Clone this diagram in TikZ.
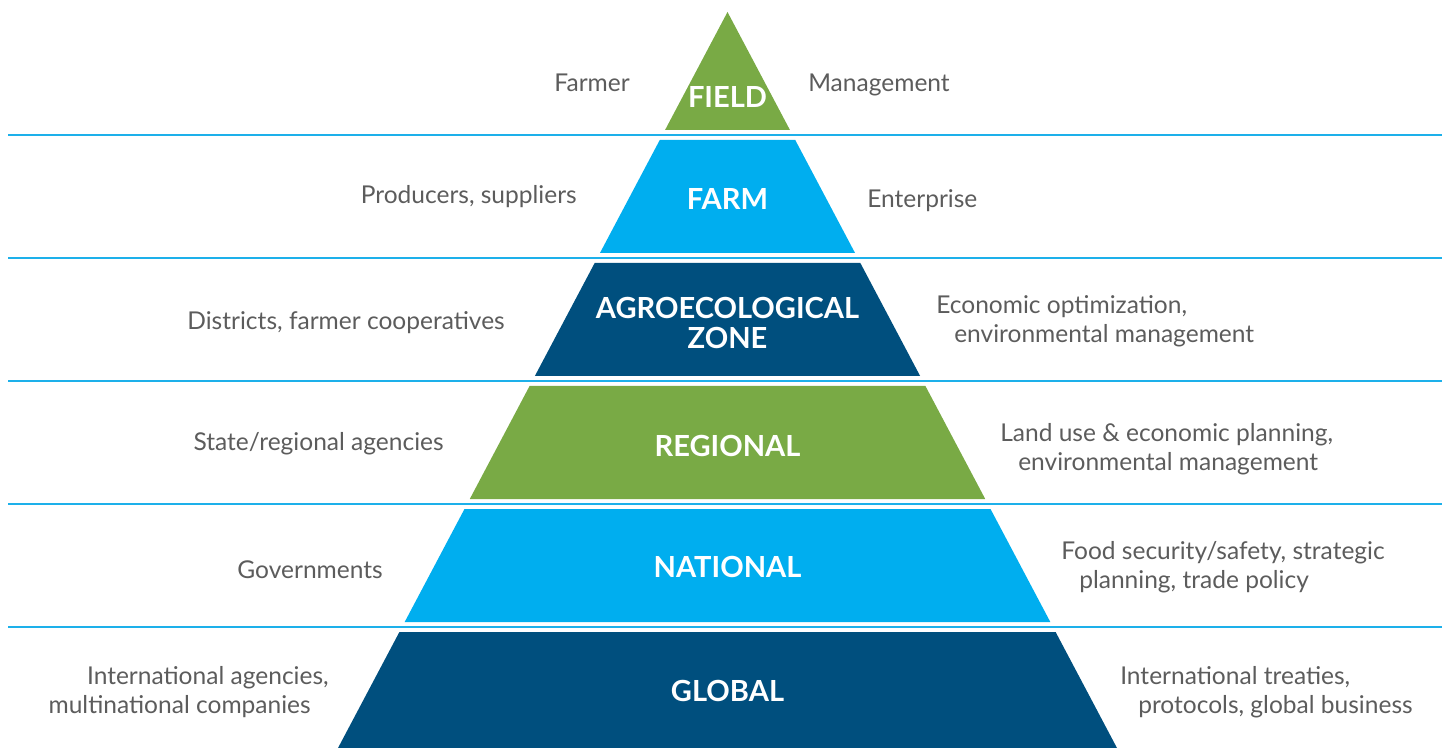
\documentclass[tikz,border=0pt]{standalone}
\usepackage{fontspec}
\setmainfont{Lato}
\definecolor{leafgreen}{HTML}{79AA45}
\definecolor{skyblue}{HTML}{00AEEF}
\definecolor{deepblue}{HTML}{004F7E}
\definecolor{rulecol}{HTML}{1DB0EA}
\definecolor{labelgray}{HTML}{5C5C5C}
\begin{document}
\begin{tikzpicture}[x=0.75pt,y=-0.75pt,
  tiername/.style={text=white,font=\fontsize{21.8}{22.5}\selectfont\bfseries,align=center,inner sep=0pt},
  actor/.style={text=labelgray,font=\fontsize{18.4}{22}\selectfont,anchor=east,align=right,inner sep=0pt},
  role/.style={text=labelgray,font=\fontsize{18.4}{22}\selectfont,anchor=west,align=left,inner sep=0pt},
  sep/.style={draw=rulecol,line width=1.5pt}]
\useasboundingbox (0,0) rectangle (1442,748);
% separating rules between the levels
\foreach \ly in {135,258,381,504,627}
  \draw[sep] (8,\ly) -- (1442,\ly);
% pyramid sides follow one slope from the apex
\def\slope{0.5292}
\fill[leafgreen] (727.5,12) -- ({727.5+\slope*118},130) -- ({727.5-\slope*118},130) -- cycle;
\foreach \t/\b/\c in {140/253/skyblue,263/376/deepblue,386/499/leafgreen,509/622/skyblue,632/748/deepblue}{
  \pgfmathsetmacro\wt{\slope*(\t-12)}
  \pgfmathsetmacro\wb{\slope*(\b-12)}
  \fill[\c] ({727.5-\wt},\t) -- ({727.5+\wt},\t) -- ({727.5+\wb},\b) -- ({727.5-\wb},\b) -- cycle;
}
% level names
\node[tiername] (field) at (727.5,97) {FIELD};
\node[tiername] (farm) at (727.5,199) {FARM};
\node[tiername] (agro) at (727.5,323) {AGROECOLOGICAL\\ZONE};
\node[tiername] (regional) at (727.5,446) {REGIONAL};
\node[tiername] (national) at (727.5,567) {NATIONAL};
\node[tiername] (global) at (727.5,691) {GLOBAL};
% actors on the left
\node[actor] (a1) at (630,83) {Farmer};
\node[actor] (a2) at (577,197) {Producers, suppliers};
\node[actor] (a3) at (505,323) {Districts, farmer cooperatives};
\node[actor] (a4) at (444,444) {State/regional agencies};
\node[actor] (a5) at (383,570) {Governments};
\node[actor] (a6) at (329,692) {International agencies,\\multinational companies\rule{13.5pt}{0pt}};
% concerns on the right
\node[role] (r1) at (808,85) {Management};
\node[role] (r2) at (867,201) {Enterprise};
\node[role] (r3) at (936,321) {Economic optimization,\\\rule{13.5pt}{0pt}environmental management};
\node[role] (r4) at (1000,449) {Land use \& economic planning,\\\rule{13.5pt}{0pt}environmental management};
\node[role] (r5) at (1061,567) {Food security/safety, strategic\\\rule{13.5pt}{0pt}planning, trade policy};
\node[role] (r6) at (1120,692) {International treaties,\\\rule{13.5pt}{0pt}protocols, global business};
\end{tikzpicture}
\end{document}
